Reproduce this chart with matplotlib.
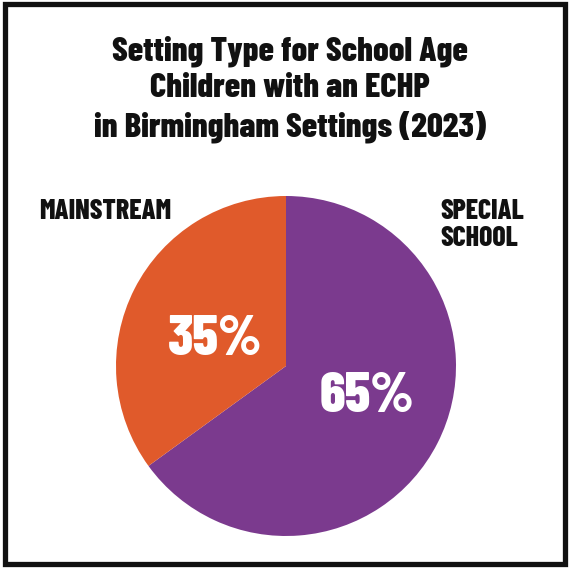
import matplotlib
matplotlib.use("Agg")
import matplotlib.pyplot as plt
from matplotlib.patches import Rectangle

TITLE = "Setting Type for School Age\nChildren with an ECHP\nin Birmingham Settings (2023)"
LABELS = ["SPECIAL\nSCHOOL", "MAINSTREAM"]
SHARES = [65, 35]
COLORS = ["#7B3A8E", "#E05A2B"]

FONT = ["Barlow Condensed", "DejaVu Sans"]
W, H = 570, 569

fig = plt.figure(figsize=(W / 100, H / 100), dpi=100)
ax = fig.add_axes([0, 0, 1, 1])

# pie, clockwise from 12 o'clock
cx, cy, r = 286, H - 366, 170
ax.pie(SHARES, colors=COLORS, startangle=90, counterclock=False,
       center=(cx, cy), radius=r, frame=True,
       wedgeprops=dict(linewidth=0))
ax.set_xlim(0, W)
ax.set_ylim(0, H)
ax.set_aspect("equal")
ax.axis("off")

# frame
ax.add_patch(Rectangle((4.5, 5), W - 9.5, H - 8.5, fill=False,
                       edgecolor="#111111", linewidth=3.8, clip_on=False))

ax.text(290, H - 89, TITLE, ha="center", va="center", fontsize=25,
        fontweight=800, family=FONT, linespacing=1.26, color="#111111")

ax.text(105, H - 211, LABELS[1], ha="center", va="center", fontsize=20,
        fontweight=800, family=FONT, color="#111111")
ax.text(440, H - 225, LABELS[0], ha="left", va="center", fontsize=20,
        fontweight=800, family=FONT, linespacing=1.1, color="#111111")

ax.text(215, H - 340, f"{SHARES[1]}%", ha="center", va="center", fontsize=41,
        fontweight=800, family=FONT, color="white")
ax.text(367, H - 397, f"{SHARES[0]}%", ha="center", va="center", fontsize=41,
        fontweight=800, family=FONT, color="white")

fig.savefig("out.png", dpi=100, facecolor="white")
